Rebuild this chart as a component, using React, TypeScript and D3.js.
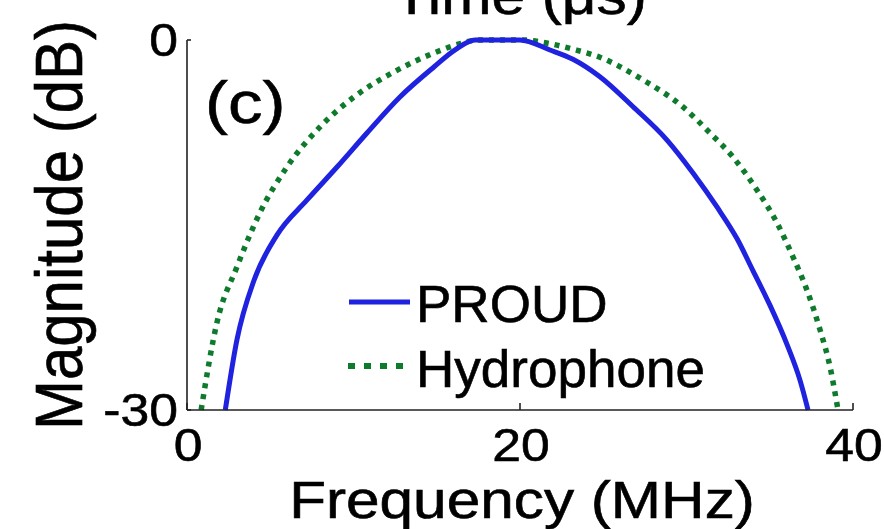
import React from "react";
import * as d3 from "d3";

const proudF = [2.3, 3.0, 4.02, 5.41, 7.21, 9.01, 10.81, 12.79, 14.83, 16.1, 17.3, 20.0, 21.8, 23.18, 24.8, 26.79, 28.83, 30.39, 31.83, 33.03, 33.99, 35.01, 36.04, 36.82, 37.3];
const proudDb = [-30, -24.3, -19.5, -15.8, -12.97, -10.3, -7.54, -4.62, -2.19, -0.8, 0, 0, -0.81, -1.56, -2.98, -5.41, -8.11, -10.78, -13.54, -16.1, -18.7, -21.5, -24.7, -27.6, -30];

const hydroF = [0.85, 1.8, 3.0, 4.38, 6.0, 7.99, 10.03, 12.43, 14.83, 16.4, 17.5, 20.2, 21.8, 23.2, 24.8, 27.39, 29.79, 31.41, 32.79, 34.23, 35.44, 36.4, 37.24, 38.02, 38.62, 39.1];
const hydroDb = [-30, -22.9, -18.4, -14.0, -10.3, -7.05, -4.62, -2.59, -1.05, -0.3, 0, 0, -0.3, -0.75, -1.4, -3.24, -5.43, -7.54, -9.49, -12.16, -14.84, -17.6, -20.3, -23.5, -26.5, -30];

const xTicks = [0, 20, 40];
const yTicks = [0, -30];
const seriesNames = ["PROUD", "Hydrophone"];
const xLabel = "Frequency (MHz)";
const yLabel = "Magnitude (dB)";
const topLabel = "Time (\u03bcs)";
const panelLabel = "(c)";

const W = 884;
const H = 529;
const FONT = "'Liberation Sans', Arial, Helvetica, sans-serif";
const BLUE = "#1f22de";
const GREEN = "#0e7a2c";
const AXIS = "#222";

function SText(props: { x: number; y: number; size: number; sx?: number; anchor?: string; rotate?: number; children: React.ReactNode }) {
  const { x, y, size, sx = 1.12, anchor = "start", rotate = 0, children } = props;
  return (
    <text
      transform={`translate(${x},${y}) scale(${sx},1)${rotate ? ` rotate(${rotate})` : ""}`}
      fontSize={size}
      fontFamily={FONT}
      textAnchor={anchor}
      fill="#000"
      stroke="#000"
      strokeWidth={0.6}
    >
      {children}
    </text>
  );
}

export default function App() {
  const x = d3.scaleLinear().domain([0, 40]).range([187, 853]);
  const y = d3.scaleLinear().domain([-30, 0]).range([410, 40]);

  const line = d3
    .line<[number, number]>()
    .x((d) => x(d[0]))
    .y((d) => y(d[1]))
    .curve(d3.curveMonotoneX);

  const proud: [number, number][] = proudF.map((f, i) => [f, proudDb[i]]);
  const hydro: [number, number][] = hydroF.map((f, i) => [f, hydroDb[i]]);

  return (
    <svg
      width={W}
      height={H}
      viewBox={`0 0 ${W} ${H}`}
      style={{ position: "absolute", left: 0, top: 0, background: "#fff" }}
    >
      <rect x={0} y={0} width={W} height={H} fill="#fff" />

      {/* clipped title of the panel above */}
      <SText x={520} y={14} size={52} sx={1.16} anchor="middle">{topLabel}</SText>

      {/* curves */}
      <path d={line(hydro) || ""} fill="none" stroke={GREEN} strokeWidth={5.5} strokeDasharray="5 6" />
      <path d={line(proud) || ""} fill="none" stroke={BLUE} strokeWidth={5} strokeLinejoin="round" />

      {/* axes */}
      <line x1={x(0)} x2={x(0)} y1={y(0)} y2={y(-30)} stroke={AXIS} strokeWidth={1.6} />
      <line x1={x(0)} x2={x(40)} y1={y(-30)} y2={y(-30)} stroke={AXIS} strokeWidth={1.6} />
      {xTicks.map((t) => (
        <g key={"xt" + t}>
          <line x1={x(t)} x2={x(t)} y1={y(-30)} y2={y(-30) - 7} stroke={AXIS} strokeWidth={1.6} />
          <SText x={x(t) + 1} y={461} size={47} sx={1.1} anchor="middle">{String(t)}</SText>
        </g>
      ))}
      {yTicks.map((t) => (
        <g key={"yt" + t}>
          <line x1={x(0)} x2={x(0) + 4} y1={y(t)} y2={y(t)} stroke={AXIS} strokeWidth={1.6} />
          <SText x={178} y={y(t) + 16} size={47} sx={1.1} anchor="end">{String(t)}</SText>
        </g>
      ))}

      {/* axis labels */}
      <SText x={522} y={518} size={52} sx={1.16} anchor="middle">{xLabel}</SText>
      <SText x={82} y={225} size={60} sx={1.1} anchor="middle" rotate={-90}>{yLabel}</SText>

      {/* panel label */}
      <SText x={205} y={123} size={60} sx={1.15}>{panelLabel}</SText>

      {/* legend */}
      <line x1={349} x2={410} y1={302} y2={302} stroke={BLUE} strokeWidth={5} />
      <SText x={416} y={322} size={51} sx={1.04}>{seriesNames[0]}</SText>
      <line x1={348} x2={403} y1={366} y2={366} stroke={GREEN} strokeWidth={6} strokeDasharray="7 9" />
      <SText x={416} y={387} size={51} sx={1.04}>{seriesNames[1]}</SText>
    </svg>
  );
}
